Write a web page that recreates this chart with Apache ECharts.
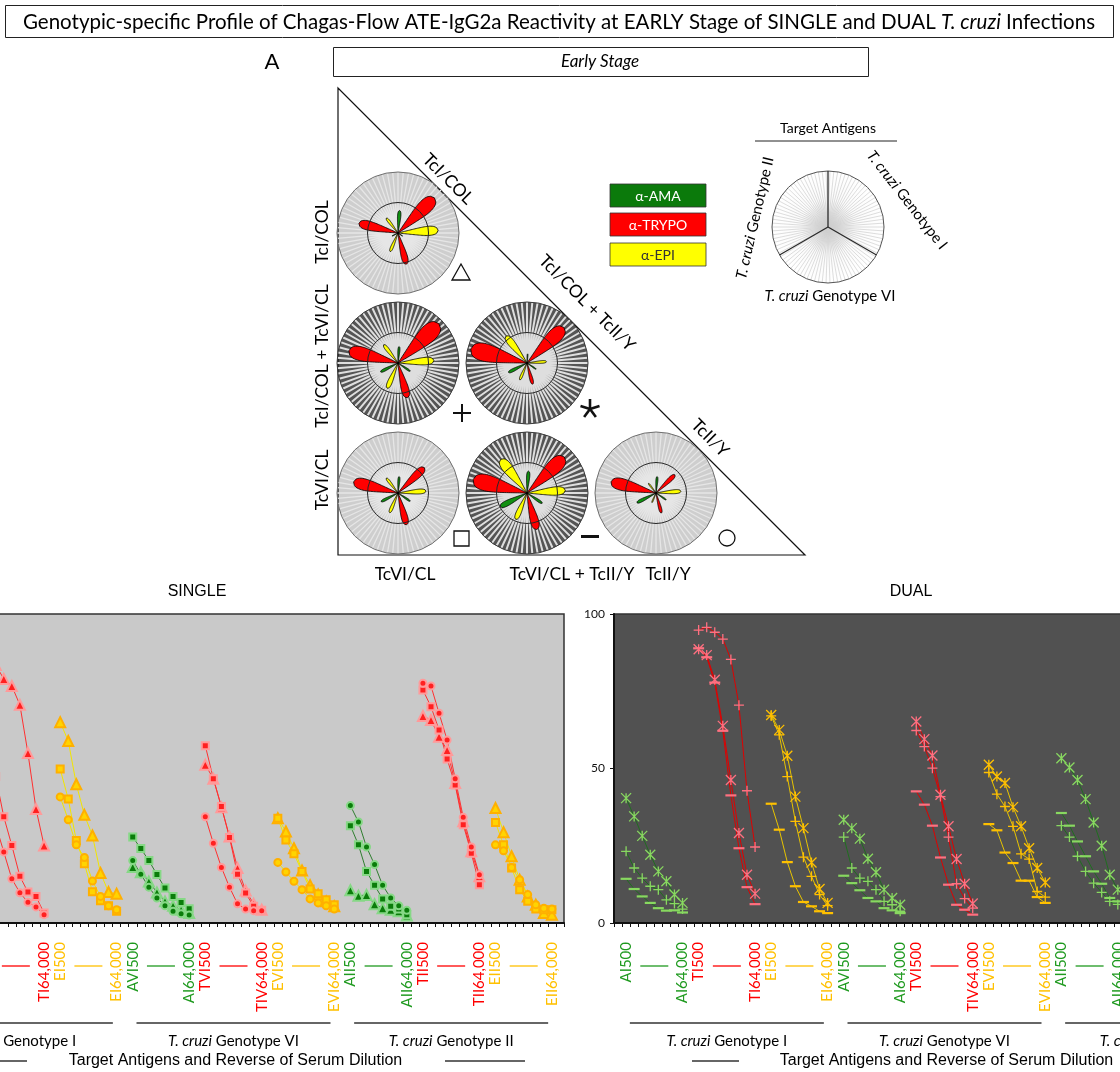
<!DOCTYPE html>
<html>
<head>
<meta charset="utf-8">
<script src="https://cdn.jsdelivr.net/npm/echarts@6/dist/echarts.min.js"></script>
<style>
  html, body { margin: 0; padding: 0; background: #fff; overflow: hidden; }
  #chart { width: 1120px; height: 1072px; }
</style>
</head>
<body>
<div id="chart"></div>
<script>
// ---------------------------------------------------------------
// Rose profiles: percent reactivity per target antigen.
// Slot order: AMA, TRYPO, EPI of genotype I, then VI, then II.
// ---------------------------------------------------------------
const ROSE_TCI_COL        = [37, 83, 66,  9, 53, 33, 11, 66, 31];
const ROSE_TCI_TCVI       = [27, 93, 59, 24, 59, 45, 32, 83, 38];
const ROSE_TCI_TCII       = [15, 84, 32, 18, 36, 30, 34, 95, 56];
const ROSE_TCVI_CL        = [27, 60, 46, 24, 54, 35, 31, 75, 31];
const ROSE_TCVI_TCII      = [36, 85, 63, 30, 62, 47, 49, 91, 70];
const ROSE_TCII_Y         = [27, 43, 41, 20, 34, 17, 35, 76, 20];

// ---------------------------------------------------------------
// Dilution curves (% positive fluorescent parasites).
// Each array: 8 dilutions (1:500 .. 1:64,000) for genotype I, VI, II.
// ---------------------------------------------------------------
const DILUTIONS = ['500', '1,000', '2,000', '4,000', '8,000', '16,000', '32,000', '64,000'];
const BLOCKS = ['AI', 'TI', 'EI', 'AVI', 'TVI', 'EVI', 'AII', 'TII', 'EII'];
const FIRST_TICK = ['AI500', 'TI500', 'EI500', 'AVI500', 'TVI500', 'EVI500', 'AII500', 'TII500', 'EII500'];
const LAST_TICK = ['AI64,000', 'TI64,000', 'EI64,000', 'AI64,000', 'TIV64,000', 'EVI64,000', 'AII64,000', 'TII64,000', 'EII64,000'];
const GENOTYPES = ['Genotype I', 'Genotype VI', 'Genotype II'];

// SINGLE infections
const SINGLE_TCI_AMA    = [30, 26, 21, 16, 11, 8, 6, 4,   18.1, 16.4, 13.4, 9.9, 7.0, 5.6, 4.3, 3.2,   10.6, 8.8, 9.1, 6.1, 4.8, 4.3, 3.8, 2.4];
const SINGLE_TCI_TRYPO  = [86, 83.5, 79, 76.7, 70.6, 55, 36.9, 25.1,   51.2, 46.7, 37.5, 28, 17.8, 10.5, 6.2, 4.3,   67, 65.7, 60.3, 56, 45.3, 32.9, 23.2, 15.1];
const SINGLE_TCI_EPI    = [65, 58.9, 44.9, 35, 28.3, 16.2, 10, 9.5,   33.9, 29.6, 24.2, 17, 12.2, 9.2, 7, 5.4,   37.2, 29.4, 21.6, 14, 8.6, 5.9, 3.2, 2.7];
const SINGLE_TCVI_AMA   = [22, 18, 14, 10, 7, 5, 4, 3,   27.8, 24.1, 20.2, 15.7, 11.3, 8.6, 6.6, 4.6,   31.5, 25.3, 16.7, 12.2, 7.8, 5.4, 4.5, 2.7];
const SINGLE_TCVI_TRYPO = [60, 47.4, 34.4, 25.1, 15.1, 10, 8.6, 3.2,   57.4, 46.7, 37.7, 27.7, 15.8, 9.7, 5.4, 4.1,   75.4, 70, 62.5, 53.1, 44.7, 31.8, 22.6, 12.4];
const SINGLE_TCVI_EPI   = [49.8, 40.1, 26.7, 19.2, 10.1, 7.2, 5.6, 3.8,   33.9, 26.9, 22.4, 16.7, 11, 9.5, 7.5, 5.9,   32.5, 25.3, 17.8, 10.8, 7, 4.5, 4.3, 4.3];
const SINGLE_TCII_AMA   = [15, 12, 9, 7, 5, 4, 3, 2,   20.2, 15.8, 11.6, 8.1, 5.6, 3.8, 3.0, 2.6,   38, 32.7, 24.6, 18.9, 12.2, 8.1, 5.6, 4.1];
const SINGLE_TCII_TRYPO = [45, 31.8, 23, 14.3, 9.8, 6.7, 5.2, 2.7,   34.4, 25.8, 18, 11.6, 6.2, 4.5, 4, 4,   77.6, 76.7, 67.9, 59.2, 46.7, 34.2, 24.6, 15.6];
const SINGLE_TCII_EPI   = [40.8, 33.4, 25.3, 21.2, 13.6, 8.6, 5.6, 4.3,   19.6, 16.5, 13.5, 10.8, 7.8, 6.5, 5.6, 4.5,   25.3, 23.4, 18, 14, 9.2, 5.9, 4.8, 4.5];

// DUAL infections
const DUAL_TCI_TCVI_AMA    = [23.2, 17.8, 14.5, 11.9, 10.8, 7.5, 6.3, 4.5,   27.8, 17.8, 14.5, 13.5, 10.8, 7.0, 5.9, 3.8,   31.5, 27.8, 21.6, 16.7, 12.9, 9.9, 7.0, 6.0];
const DUAL_TCI_TCVI_TRYPO  = [94.8, 95.7, 94.1, 91.9, 85.3, 70.5, 42.8, 24.6,   62.3, 57.1, 50.1, 40.9, 27.8, 12.7, 7.9, 4.8,   80, 76, 68, 55, 40, 26, 15, 8];
const DUAL_TCI_TCVI_EPI    = [67, 60.9, 47.4, 32.9, 21.3, 15.1, 9.2, 5.6,   48.7, 41.7, 37.7, 31.3, 22.4, 20.7, 10.2, 8.4,   40, 33, 25, 18, 12, 8, 6, 4];
const DUAL_TCI_TCII_AMA    = [40.4, 34.5, 28.2, 22.1, 16.7, 13.5, 9.2, 6.5,   33.4, 30.7, 27.3, 20.8, 16.4, 10.8, 8.1, 5.9,   53.3, 50.3, 46.3, 40.1, 32.5, 25, 15.6, 10.8];
const DUAL_TCI_TCII_TRYPO  = [88.6, 86.7, 78.7, 63.8, 46.3, 29.1, 15.6, 9.5,   65.2, 59.5, 54.2, 41.5, 31.3, 20.7, 12.7, 6.3,   90, 88, 82, 70, 52, 34, 20, 10];
const DUAL_TCI_TCII_EPI    = [67.3, 62.5, 54.1, 40.9, 30.7, 19.6, 11, 6.5,   51.2, 47.4, 45.3, 37.5, 31.3, 24.2, 17.8, 13.1,   55, 48, 38, 28, 19, 12, 8, 5];
const DUAL_TCVI_TCII_AMA   = [14.3, 11, 8.6, 6.5, 4.8, 4.0, 4.1, 3.4,   15.3, 12.9, 10.6, 8.1, 7.0, 4.8, 4.1, 3.2,   35.6, 31.5, 26.4, 21.6, 16.7, 12.7, 8.1, 7.0];
const DUAL_TCVI_TCII_TRYPO = [88.9, 86, 77.8, 62.2, 41.3, 24.2, 11.6, 6.1,   42.6, 38.3, 31.5, 21.2, 12.4, 5.9, 4.3, 2.7,   85, 82, 74, 60, 44, 28, 16, 8];
const DUAL_TCVI_TCII_EPI   = [38.6, 30.2, 19.7, 11.9, 6.8, 5.4, 3.8, 3.2,   32, 30, 22.8, 19.4, 13.7, 13.7, 8.4, 6.5,   45, 38, 29, 21, 14, 9, 6, 4];

// ---------------------------------------------------------------
// Layout and styling
// ---------------------------------------------------------------
const FONT = 'Lato';
const ANTIGEN_LABEL_COLORS = ['#1f9a1f', '#ff0000', '#ffc000'];
const PETAL_COLORS = ['#119011', '#ff0000', '#ffff00'];
const SLOT_ANGLE = [86, 44, 4, 326, 285, 247, 207, 166, 128];

const ROSES = [
  { values: ROSE_TCI_COL,   dark: false, center: [398, 233] },
  { values: ROSE_TCI_TCVI,  dark: true,  center: [398, 363] },
  { values: ROSE_TCI_TCII,  dark: true,  center: [527, 363] },
  { values: ROSE_TCVI_CL,   dark: false, center: [398, 493] },
  { values: ROSE_TCVI_TCII, dark: true,  center: [527, 493] },
  { values: ROSE_TCII_Y,    dark: false, center: [656, 493] }
];
const ROSE_RADIUS = 61;

const N_CATS = 82;
const CATEGORIES = [];
for (let i = 0; i < N_CATS; i++) {
  const b = Math.floor((i - 1) / 9), k = (i - 1) % 9;
  if (i === 0 || k === 8 || b > 8) CATEGORIES.push('gap' + i);
  else CATEGORIES.push(BLOCKS[b] + DILUTIONS[k]);
}
function tickText(idx) {
  if (idx < 1) return '';
  const b = Math.floor((idx - 1) / 9), k = (idx - 1) % 9;
  if (b > 8) return '';
  if (k === 0) return FIRST_TICK[b];
  if (k === 7) return LAST_TICK[b];
  return '';
}
function tickColor(v) {
  const c = v.charAt(0);
  return c === 'A' ? ANTIGEN_LABEL_COLORS[0] : c === 'T' ? ANTIGEN_LABEL_COLORS[1] : ANTIGEN_LABEL_COLORS[2];
}
function spread(vals, antigen) {
  const row = new Array(N_CATS).fill(null);
  for (let g = 0; g < 3; g++) {
    for (let k = 0; k < 8; k++) row[1 + (g * 3 + antigen) * 9 + k] = vals[g * 8 + k];
  }
  return row;
}

const PLUS_PATH = 'path://M5,0L5,10M0,5L10,5';
const STAR_PATH = 'path://M0,0L10,10M10,0L0,10M5,0L5,10';

const PANELS = [
  {
    title: 'SINGLE', grid: { left: -97, top: 614, width: 661, height: 309, backgroundColor: '#c9c9c9' },
    markers: [
      { symbol: 'triangle', size: 10, arrays: [SINGLE_TCI_AMA, SINGLE_TCI_TRYPO, SINGLE_TCI_EPI] },
      { symbol: 'rect', size: 7, arrays: [SINGLE_TCVI_AMA, SINGLE_TCVI_TRYPO, SINGLE_TCVI_EPI] },
      { symbol: 'circle', size: 7, arrays: [SINGLE_TCII_AMA, SINGLE_TCII_TRYPO, SINGLE_TCII_EPI] }
    ],
    lineColors: ['#2f7d2f', '#ff3030', '#f2e600'],
    fill: ['#0a7d0a', '#ff2020', '#ffd400'],
    border: ['#86d886', '#ff9a9a', '#ffb000'],
    borderWidth: 2,
    titleX: 197, bottomLines: [[-58, 27], [445, 525]]
  },
  {
    title: 'DUAL', grid: { left: 614, top: 614, width: 661, height: 309, backgroundColor: '#515151' },
    markers: [
      { symbol: PLUS_PATH, size: 10, arrays: [DUAL_TCI_TCVI_AMA, DUAL_TCI_TCVI_TRYPO, DUAL_TCI_TCVI_EPI] },
      { symbol: STAR_PATH, size: 10, arrays: [DUAL_TCI_TCII_AMA, DUAL_TCI_TCII_TRYPO, DUAL_TCI_TCII_EPI] },
      { symbol: 'rect', size: [11, 2.2], arrays: [DUAL_TCVI_TCII_AMA, DUAL_TCVI_TCII_TRYPO, DUAL_TCVI_TCII_EPI] }
    ],
    lineColors: ['#1f6e1f', '#e00000', '#e8c400'],
    fill: ['#88d860', '#ff7080', '#ffc000'],
    border: ['#88d860', '#ff7080', '#ffc000'],
    borderWidth: 1.3,
    titleX: 911, bottomLines: [[692, 739], [1200, 1280]]
  }
];

// ---------------------------------------------------------------
// Custom renderers for the rose panels
// ---------------------------------------------------------------
function renderPetal(params, api) {
  const v = api.value(0);
  const slot = api.value(1);
  const a0 = SLOT_ANGLE[slot];
  const half = 2 + 0.12 * v;
  const n = 30, left = [], right = [];
  for (let k = 0; k <= n; k++) {
    const t = k / n;
    const w = half * Math.sqrt(Math.max(0, 1 - Math.pow(t, 5)));
    left.push(api.coord([v * t, a0 + w]));
    right.push(api.coord([v * t, a0 - w]));
  }
  return {
    type: 'polygon',
    shape: { points: left.concat(right.reverse()) },
    style: { fill: PETAL_COLORS[slot % 3], stroke: '#000', lineWidth: 0.8 }
  };
}
function renderRing(params, api) {
  const c = api.coord([0, 0]);
  const p = api.coord([api.value(0), 0]);
  return {
    type: 'circle',
    shape: { cx: c[0], cy: c[1], r: Math.hypot(p[0] - c[0], p[1] - c[1]) },
    style: { fill: 'none', stroke: '#262626', lineWidth: 1 }
  };
}
function renderDivider(params, api) {
  const a = api.value(1);
  const c = api.coord([0, a]);
  const p = api.coord([api.value(0), a]);
  return { type: 'line', shape: { x1: c[0], y1: c[1], x2: p[0], y2: p[1] }, style: { stroke: '#2a2a2a', lineWidth: 1.3 } };
}

const polar = [], angleAxis = [], radiusAxis = [], series = [];

ROSES.forEach((rose, i) => {
  polar.push({ center: rose.center, radius: ROSE_RADIUS });
  const inner = new echarts.graphic.RadialGradient(0.5, 0.5, 0.5, rose.dark
    ? [{ offset: 0, color: '#ffffff' }, { offset: 0.35, color: '#eeeeee' }, { offset: 1, color: '#959595' }]
    : [{ offset: 0, color: '#ffffff' }, { offset: 0.4, color: '#f0f0f0' }, { offset: 1, color: '#cbcbcb' }]);
  angleAxis.push({
    polarIndex: i, type: 'value', min: 0, max: 360, interval: 5, startAngle: 0, clockwise: false, z: 1,
    axisLine: { show: true, lineStyle: { color: rose.dark ? '#3a3a3a' : '#707070', width: 1 } },
    axisTick: { show: false }, axisLabel: { show: false },
    splitLine: { show: true, lineStyle: { color: rose.dark ? '#dedede' : '#e6e6e6', width: rose.dark ? 2 : 1.3 } }
  });
  radiusAxis.push({
    polarIndex: i, type: 'value', min: 0, max: 100, interval: 50, z: 0,
    axisLine: { show: false }, axisTick: { show: false }, axisLabel: { show: false }, splitLine: { show: false },
    splitArea: { show: true, areaStyle: { color: [inner, rose.dark ? '#555555' : '#cecece'] } }
  });
  series.push({
    type: 'custom', coordinateSystem: 'polar', polarIndex: i, z: 3, silent: true,
    renderItem: renderPetal, data: rose.values.map((v, s) => [v, s])
  });
  series.push({
    type: 'custom', coordinateSystem: 'polar', polarIndex: i, z: 4, silent: true,
    renderItem: renderRing, data: [[50, 0]]
  });
});

// Target antigen key wheel
const KEY = ROSES.length;
polar.push({ center: [828, 227], radius: 56 });
angleAxis.push({
  polarIndex: KEY, type: 'value', min: 0, max: 360, interval: 4, startAngle: 0, clockwise: false, z: 1,
  axisLine: { show: true, lineStyle: { color: '#555', width: 1 } },
  axisTick: { show: false }, axisLabel: { show: false },
  splitLine: { show: true, lineStyle: { color: '#cfcfcf', width: 0.7 } }
});
radiusAxis.push({
  polarIndex: KEY, type: 'value', min: 0, max: 100, interval: 100, z: 0,
  axisLine: { show: false }, axisTick: { show: false }, axisLabel: { show: false }, splitLine: { show: false },
  splitArea: { show: true, areaStyle: { color: [new echarts.graphic.RadialGradient(0.5, 0.5, 0.5,
    [{ offset: 0, color: '#d4d4d4' }, { offset: 0.5, color: '#fbfbfb' }, { offset: 1, color: '#ffffff' }])] } }
});
series.push({
  type: 'custom', coordinateSystem: 'polar', polarIndex: KEY, z: 4, silent: true,
  renderItem: renderDivider, data: [[100, 90], [100, 210], [100, 330]]
});

// Dilution curve panels
const grid = [], xAxis = [], yAxis = [];
PANELS.forEach((p, g) => {
  grid.push(Object.assign({ show: true, borderColor: '#333', borderWidth: 1.5, containLabel: false, outerBoundsMode: 'none' }, p.grid));
  xAxis.push({
    gridIndex: g, type: 'category', data: CATEGORIES, boundaryGap: true,
    axisLine: { show: true, lineStyle: { color: '#111', width: 2 } },
    axisTick: { show: true, interval: 0, length: 4, lineStyle: { color: '#111', width: 1 } },
    axisLabel: {
      show: true, interval: 0, rotate: 90, margin: 19, fontFamily: FONT, fontSize: 15,
      padding: [0, 0, 8, 0],
      formatter: (v, idx) => tickText(idx),
      color: (v) => tickColor(v || '')
    },
    splitLine: { show: false }
  });
  yAxis.push({
    gridIndex: g, type: 'value', min: 0, max: 100, interval: 50,
    axisLine: { show: true, lineStyle: { color: '#111', width: 2 } },
    axisTick: { show: true, length: 4, lineStyle: { color: '#111' } },
    axisLabel: { fontFamily: FONT, fontSize: 12, color: '#111', margin: 9 },
    splitLine: { show: false }
  });
  p.markers.forEach((m) => {
    m.arrays.forEach((arr, a) => {
      series.push({
        type: 'line', xAxisIndex: g, yAxisIndex: g, data: spread(arr, a),
        connectNulls: false, showAllSymbol: true, symbol: m.symbol, symbolSize: m.size,
        lineStyle: { color: p.lineColors[a], width: 1 },
        itemStyle: { color: p.fill[a], borderColor: p.border[a], borderWidth: m.symbol === 'rect' && g === 1 ? 0 : p.borderWidth },
        z: 5, silent: true
      });
    });
  });
});

// ---------------------------------------------------------------
// Static annotation: titles, triangle frame, labels, keys
// ---------------------------------------------------------------
function txt(x, y, text, size, opts) {
  return Object.assign({
    type: 'text', x, y,
    style: Object.assign({ text, fontFamily: FONT, fontSize: size, fill: '#000', align: 'center', verticalAlign: 'middle' }, (opts && opts.style) || {})
  }, opts && opts.rotation !== undefined ? { rotation: opts.rotation } : {});
}
function italicLabel(x, y, rest, size, rotation) {
  return {
    type: 'text', x, y, rotation: rotation || 0,
    style: {
      text: '{i|T. cruzi}{n| ' + rest + '}', align: 'center', verticalAlign: 'middle',
      rich: {
        i: { fontFamily: FONT, fontSize: size, fontStyle: 'italic', fill: '#000' },
        n: { fontFamily: FONT, fontSize: size, fill: '#000' }
      }
    }
  };
}
function asterisk(cx, cy, len) {
  const arms = [90, 18, -54, -126, 162];
  return arms.map((deg) => {
    const a = deg * Math.PI / 180;
    return { type: 'line', shape: { x1: cx, y1: cy, x2: cx + len * Math.cos(a), y2: cy - len * Math.sin(a) }, style: { stroke: '#111', lineWidth: 2.6 } };
  });
}
const D45 = Math.PI / 4;
const staticGraphics = [
  { type: 'rect', shape: { x: 5.5, y: 5.5, width: 1108, height: 32 }, style: { fill: '#fff', stroke: '#222', lineWidth: 1 } },
  {
    type: 'text', x: 559, y: 22,
    style: {
      text: '{n|Genotypic-specific Profile of Chagas-Flow ATE-IgG2a Reactivity at EARLY Stage of SINGLE and DUAL }{i|T. cruzi}{n| Infections}',
      align: 'center', verticalAlign: 'middle',
      rich: {
        n: { fontFamily: FONT, fontSize: 20.5, fill: '#000' },
        i: { fontFamily: FONT, fontSize: 20.5, fill: '#000', fontStyle: 'italic' }
      }
    }
  },
  txt(272, 62, 'A', 22),
  { type: 'rect', shape: { x: 333.5, y: 47.5, width: 535, height: 29 }, style: { fill: '#fff', stroke: '#222', lineWidth: 1 } },
  txt(600, 62, 'Early Stage', 17, { style: { fontStyle: 'italic' } }),
  { type: 'polygon', shape: { points: [[338, 88], [338, 555], [805, 555]] }, style: { fill: 'none', stroke: '#111', lineWidth: 1.2 } },
  txt(448, 179, 'TcI/COL', 17.5, { rotation: -D45 }),
  txt(587, 303, 'TcI/COL + TcII/Y', 17.5, { rotation: -D45 }),
  txt(710, 438, 'TcII/Y', 17.5, { rotation: -D45 }),
  txt(322, 232, 'TcI/COL', 17.5, { rotation: Math.PI / 2 }),
  txt(322, 356, 'TcI/COL + TcVI/CL', 17.5, { rotation: Math.PI / 2 }),
  txt(322, 480, 'TcVI/CL', 17.5, { rotation: Math.PI / 2 }),
  txt(405, 574, 'TcVI/CL', 17.5),
  txt(572, 574, 'TcVI/CL + TcII/Y', 17.5),
  txt(668, 574, 'TcII/Y', 17.5),
  // infection symbols
  { type: 'polygon', shape: { points: [[461, 264], [452, 280], [470, 280]] }, style: { fill: 'none', stroke: '#111', lineWidth: 1.3 } },
  { type: 'line', shape: { x1: 453, y1: 413, x2: 471, y2: 413 }, style: { stroke: '#111', lineWidth: 2 } },
  { type: 'line', shape: { x1: 462, y1: 404, x2: 462, y2: 422 }, style: { stroke: '#111', lineWidth: 2 } },
  ...asterisk(590, 409, 10),
  { type: 'rect', shape: { x: 454, y: 531, width: 15, height: 15 }, style: { fill: 'none', stroke: '#111', lineWidth: 1.3 } },
  { type: 'rect', shape: { x: 581, y: 535, width: 18, height: 3 }, style: { fill: '#111' } },
  { type: 'circle', shape: { cx: 727, cy: 538, r: 8 }, style: { fill: 'none', stroke: '#111', lineWidth: 1.3 } },
  // antibody legend
  { type: 'rect', shape: { x: 610, y: 184, width: 96, height: 23 }, style: { fill: '#0b7a0b', stroke: '#333', lineWidth: 0.8 } },
  txt(658, 196, 'α-AMA', 14, { style: { fill: '#fff' } }),
  { type: 'rect', shape: { x: 610, y: 213, width: 96, height: 23 }, style: { fill: '#ff0000', stroke: '#333', lineWidth: 0.8 } },
  txt(658, 225, 'α-TRYPO', 14, { style: { fill: '#fff' } }),
  { type: 'rect', shape: { x: 610, y: 243, width: 96, height: 23 }, style: { fill: '#ffff00', stroke: '#333', lineWidth: 0.8 } },
  txt(658, 255, 'α-EPI', 14, { style: { fill: '#333' } }),
  // target antigen key
  txt(828, 128, 'Target Antigens', 14),
  { type: 'line', shape: { x1: 755, y1: 141, x2: 897, y2: 141 }, style: { stroke: '#222', lineWidth: 1 } },
  italicLabel(907, 200, 'Genotype I', 15, -52 * Math.PI / 180),
  italicLabel(755, 218, 'Genotype II', 15, 77 * Math.PI / 180),
  italicLabel(830, 296, 'Genotype VI', 15, 0)
];

PANELS.forEach((p) => {
  staticGraphics.push(txt(p.titleX, 592, p.title, 16, { style: { fontFamily: 'Liberation Sans' } }));
});

const chart = echarts.init(document.getElementById('chart'), null, { renderer: 'canvas', width: 1120, height: 1072 });
chart.setOption({
  animation: false,
  backgroundColor: '#ffffff',
  textStyle: { fontFamily: FONT },
  polar, angleAxis, radiusAxis, grid, xAxis, yAxis, series,
  graphic: { elements: staticGraphics }
});

// Axis group decorations positioned from the category scale
const axisGraphics = [];
PANELS.forEach((p, g) => {
  const px = (idx) => chart.convertToPixel({ xAxisIndex: g }, idx);
  for (let b = 0; b < 9; b++) {
    const cx = (px(1 + b * 9 + 3) + px(1 + b * 9 + 4)) / 2;
    axisGraphics.push({ type: 'line', shape: { x1: cx - 14, y1: 966, x2: cx + 14, y2: 966 },
      style: { stroke: ANTIGEN_LABEL_COLORS[b % 3], lineWidth: 1.3 } });
  }
  for (let G = 0; G < 3; G++) {
    const x1 = px(1 + G * 27), x2 = px(1 + G * 27 + 18 + 7);
    const cx = (x1 + x2) / 2;
    axisGraphics.push({ type: 'line', shape: { x1: cx - 97, y1: 1023, x2: cx + 97, y2: 1023 }, style: { stroke: '#333', lineWidth: 1.3 } });
    axisGraphics.push(italicLabel(cx, 1041, GENOTYPES[G], 15, 0));
  }
  const gc = p.grid.left + p.grid.width / 2 + 2;
  axisGraphics.push(txt(gc, 1061, 'Target Antigens and Reverse of Serum Dilution', 16, { style: { fontFamily: 'Liberation Sans' } }));
  p.bottomLines.forEach((l) => {
    axisGraphics.push({ type: 'line', shape: { x1: l[0], y1: 1061, x2: l[1], y2: 1061 }, style: { stroke: '#333', lineWidth: 1.3 } });
  });
});
chart.setOption({ graphic: { elements: staticGraphics.concat(axisGraphics) } }, { replaceMerge: ['graphic'] });
</script>
</body>
</html>
